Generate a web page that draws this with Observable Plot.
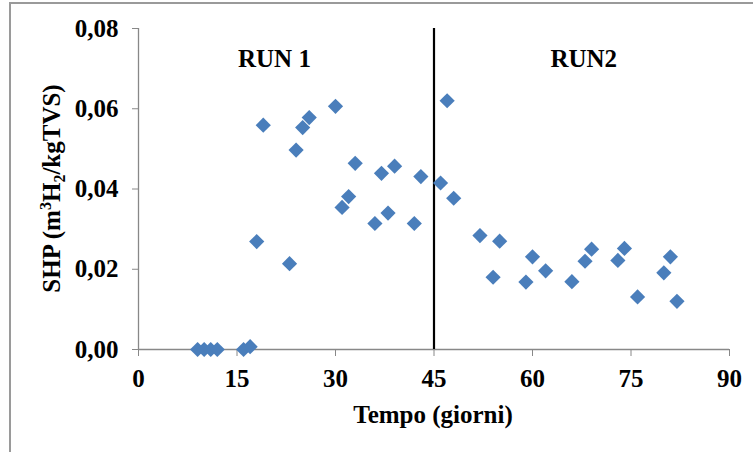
<!DOCTYPE html>
<html>
<head>
<meta charset="utf-8">
<script src="https://cdn.jsdelivr.net/npm/d3@7"></script>
<script src="https://cdn.jsdelivr.net/npm/@observablehq/plot@0.6"></script>
<style>
  html, body { margin: 0; padding: 0; background: #fff; }
  #wrap { position: relative; width: 753px; height: 452px; overflow: hidden; }
  #frame { position: absolute; left: 9px; top: 2px; width: 800px; height: 500px;
           border-left: 2px solid #9a9a9a; border-top: 2px solid #9a9a9a; pointer-events: none; }
  #wrap svg { position: absolute; left: 0; top: 0; }
  .xt g[aria-label="x-axis tick"] path, .xt g[aria-label="y-axis tick"] path { stroke: #888; }
</style>
</head>
<body>
<div id="wrap" class="xt"><div id="frame"></div></div>
<script>
// Data
const days = [9, 10, 11, 12, 16, 17, 18, 19, 23, 24, 25, 26, 30, 31, 32, 33, 36, 37, 38, 39, 42, 43,
              46, 47, 48, 52, 54, 55, 59, 60, 62, 66, 68, 69, 73, 74, 76, 80, 81, 82];
const shp = [0, 0, 0, 0, 0, 0.0007, 0.0269, 0.0559, 0.0214, 0.0497, 0.0553, 0.0578, 0.0606, 0.0354,
             0.0381, 0.0464, 0.0314, 0.0439, 0.0340, 0.0457, 0.0314, 0.0431,
             0.0415, 0.0620, 0.0377, 0.0284, 0.0180, 0.0270, 0.0168, 0.0231, 0.0196, 0.0169,
             0.0220, 0.0250, 0.0222, 0.0252, 0.0131, 0.0191, 0.0231, 0.0120];
const xTicks = [0, 15, 30, 45, 60, 75, 90];
const yTicks = [0, 0.02, 0.04, 0.06, 0.08];
const runBoundary = [45];
const runLabels = ["RUN 1", "RUN2"];
const runLabelX = [20.7, 67.8];
const runLabelY = [0.0724, 0.0724];
const xTitle = "Tempo (giorni)";

const data = days.map((d, i) => ({day: d, shp: shp[i]}));
const labels = runLabels.map((t, i) => ({t, x: runLabelX[i], y: runLabelY[i]}));

const diamond = {
  draw(ctx, size) {
    const h = Math.sqrt(size / Math.PI);
    ctx.moveTo(0, -h); ctx.lineTo(h, 0); ctx.lineTo(0, h); ctx.lineTo(-h, 0); ctx.closePath();
  }
};

const FONT = '"Liberation Serif", "Times New Roman", serif';
const FS = 25;

const plot = Plot.plot({
  width: 753,
  height: 452,
  marginLeft: 138,
  marginRight: 24,
  marginTop: 28,
  marginBottom: 103,
  style: { fontFamily: FONT, fontSize: FS + "px", fontWeight: "bold", color: "#000", background: "transparent" },
  x: { domain: [0, 90], ticks: xTicks, tickSize: 7, tickPadding: 13, label: null, tickFormat: d => String(d) },
  y: { domain: [0, 0.08], ticks: yTicks, tickSize: 6, tickPadding: 14, label: null,
       tickFormat: d => d.toFixed(2).replace(".", ",") },
  marks: [
    Plot.ruleY([0], { stroke: "#888", strokeWidth: 1.3 }),
    Plot.ruleX([0], { stroke: "#888", strokeWidth: 1.3 }),
    Plot.ruleX(runBoundary, { y1: 0, y2: 0.08, stroke: "#000", strokeWidth: 2.2 }),
    Plot.dot(data, { x: "day", y: "shp", symbol: diamond, r: 7.6, fill: "#4A7EBB", stroke: "none" }),
    Plot.text(labels, { x: "x", y: "y", text: "t", fontSize: FS, fontWeight: "bold", fill: "#000" })
  ]
});

document.getElementById("wrap").appendChild(plot);

const svg = d3.select(plot);
// x-axis title
svg.append("text")
  .attr("x", 433).attr("y", 423)
  .attr("text-anchor", "middle")
  .attr("font-family", FONT).attr("font-size", FS).attr("font-weight", "bold").attr("fill", "#000")
  .text(xTitle);
// y-axis title with superscript / subscript
const yt = svg.append("text")
  .attr("transform", "translate(60,188.5) rotate(-90)")
  .attr("text-anchor", "middle")
  .attr("font-family", FONT).attr("font-size", FS).attr("font-weight", "bold").attr("fill", "#000");
yt.append("tspan").text("SHP (m");
yt.append("tspan").attr("dy", -9).attr("font-size", 16).text("3");
yt.append("tspan").attr("dy", 9).text("H");
yt.append("tspan").attr("dy", 5).attr("font-size", 16).text("2");
yt.append("tspan").attr("dy", -5).text("/kgTVS)");
</script>
</body>
</html>
